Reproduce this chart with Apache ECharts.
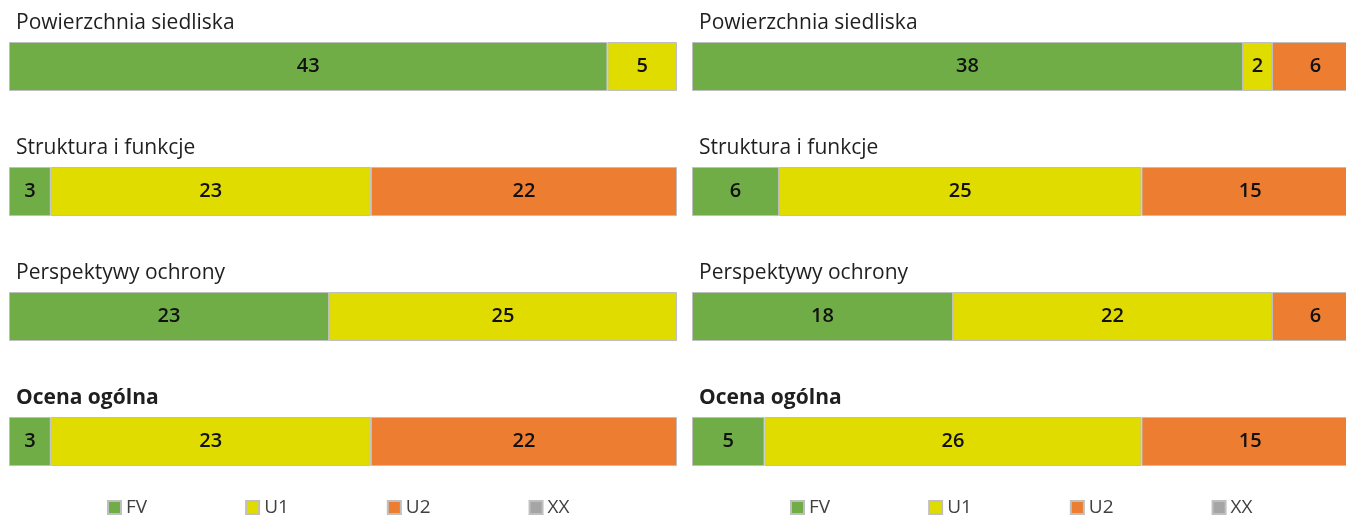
<!DOCTYPE html>
<html>
<head>
    <meta charset="UTF-8">
    <script src="https://cdn.jsdelivr.net/npm/echarts@6/dist/echarts.min.js"></script>
</head>
<style type="text/css">
    html, body { height: 100%; width: 100%; margin: 0; padding: 0; background: #fff; overflow: hidden; }
    /* wider than the window: the right panel is cut off at the edge, as in the original */
    #main { width: 1362px; height: 515px; }
</style>
<body>
    <div id="main"></div>
</body>
<script>
    var myChart = echarts.init(document.getElementById('main'));

    var categories = ['Powierzchnia siedliska', 'Struktura i funkcje', 'Perspektywy ochrony', 'Ocena ogólna'];
    var seriesNames = ['FV', 'U1', 'U2', 'XX'];
    var colors = ['#70AD47', '#E0DC00', '#ED7D31', '#A5A5A5'];

    // left panel
    var leftFV = [43, 3, 23, 3];
    var leftU1 = [5, 23, 25, 23];
    var leftU2 = [0, 22, 0, 22];
    var leftXX = [0, 0, 0, 0];
    // right panel
    var rightFV = [38, 6, 18, 5];
    var rightU1 = [2, 25, 22, 26];
    var rightU2 = [6, 15, 6, 15];
    var rightXX = [0, 0, 0, 0];

    var panels = [
        { left: 9, width: 668, titleX: 16, legendX: 102, values: [leftFV, leftU1, leftU2, leftXX] },
        { left: 692, width: 667, titleX: 699, legendX: 785, values: [rightFV, rightU1, rightU2, rightXX] }
    ];
    var rowTops = [42, 167, 292, 417];
    var font = '"Open Sans", "Noto Sans", sans-serif';

    var grids = [], xAxes = [], yAxes = [], series = [], titles = [], legends = [];
    var g = 0;
    panels.forEach(function (p) {
        legends.push({
            data: seriesNames, left: p.legendX, top: 493,
            itemWidth: 13, itemHeight: 13, itemGap: 98,
            icon: 'rect',
            textStyle: { fontFamily: font, fontSize: 19, color: '#404040' }
        });
        categories.forEach(function (cat, r) {
            var total = 0;
            p.values.forEach(function (arr) { total += arr[r]; });
            titles.push({
                text: cat, left: p.titleX, top: rowTops[r] - 29, padding: 0,
                textStyle: { fontFamily: font, fontSize: 21, fontWeight: r === 3 ? 'bold' : 'normal', color: '#1f1f1f' }
            });
            grids.push({ left: p.left, width: p.width, top: rowTops[r], height: 49 });
            xAxes.push({ type: 'value', gridIndex: g, min: 0, max: total, show: false });
            yAxes.push({ type: 'category', gridIndex: g, data: [cat], show: false });
            p.values.forEach(function (arr, s) {
                series.push({
                    name: seriesNames[s], type: 'bar', stack: 'g' + g,
                    xAxisIndex: g, yAxisIndex: g,
                    barWidth: '100%',
                    data: [arr[r] === 0 ? '-' : arr[r]],
                    itemStyle: { color: colors[s], borderColor: '#BFBFBF', borderWidth: 1 },
                    label: {
                        show: true, position: 'inside',
                        fontFamily: font, fontSize: 20, fontWeight: 600, color: '#111'
                    },
                    animation: false
                });
            });
            g++;
        });
    });

    var option = {
        color: colors,
        animation: false,
        title: titles,
        legend: legends,
        grid: grids,
        xAxis: xAxes,
        yAxis: yAxes,
        series: series
    };
    myChart.setOption(option);
</script>
</html>
